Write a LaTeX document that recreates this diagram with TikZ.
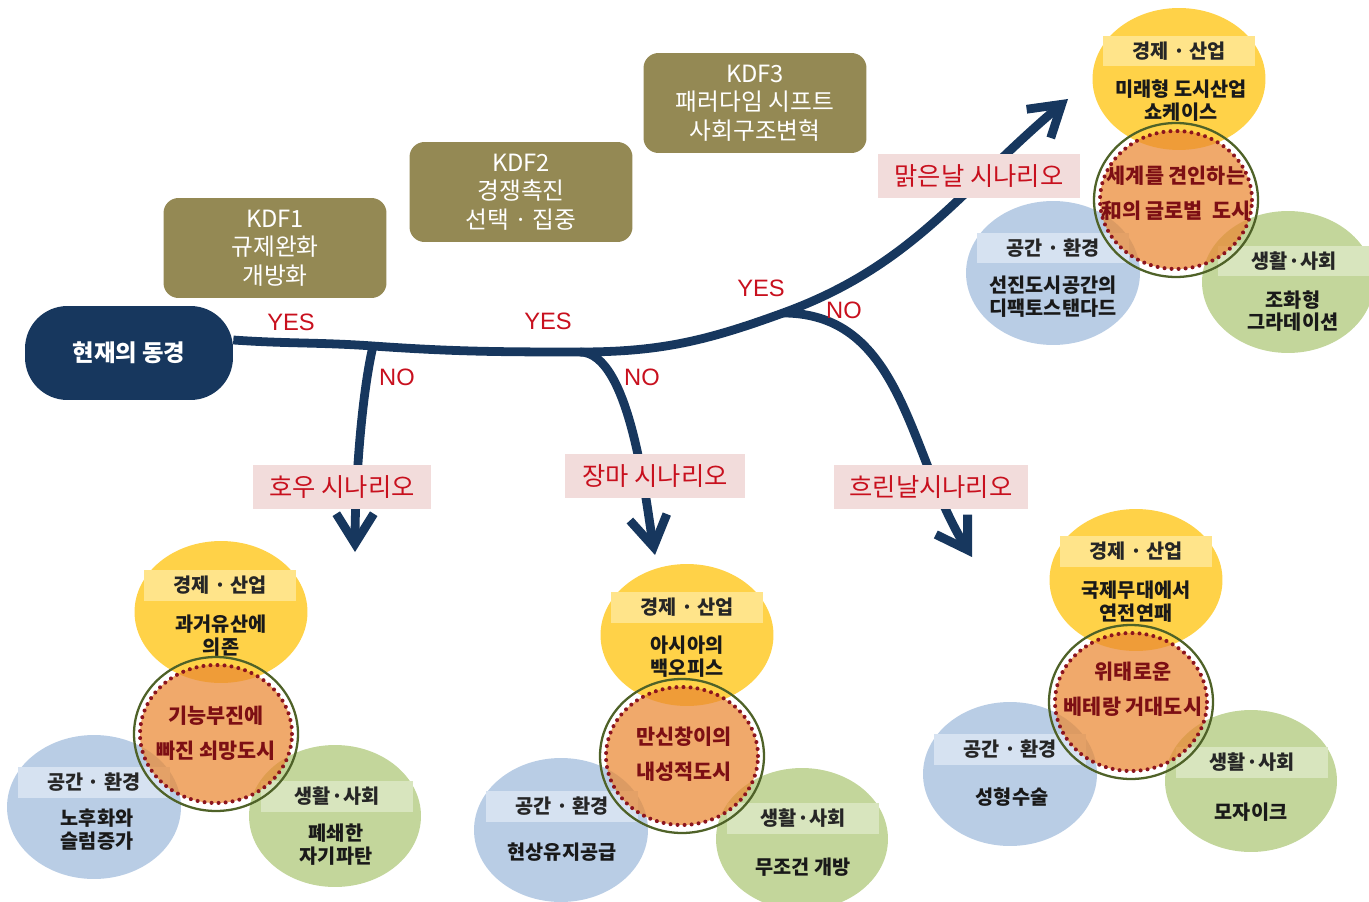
\documentclass[tikz,border=0pt]{standalone}
\usepackage{fontspec}
\setmainfont{Noto Sans CJK KR}
\newfontfamily\yesnofont{Liberation Sans}
\usetikzlibrary{arrows.meta,shapes.geometric}

\definecolor{dreamnavy}{RGB}{23,55,94}
\definecolor{kdfolive}{RGB}{148,137,84}
\definecolor{scenred}{RGB}{200,16,30}
\definecolor{scenpink}{RGB}{242,220,219}
\definecolor{ecoyellow}{RGB}{255,210,72}
\definecolor{ecoband}{RGB}{255,228,138}
\definecolor{envblue}{RGB}{185,205,229}
\definecolor{envband}{RGB}{214,226,241}
\definecolor{socgreen}{RGB}{195,214,155}
\definecolor{socband}{RGB}{216,229,190}
\definecolor{coreorange}{RGB}{234,136,50}
\definecolor{corering}{RGB}{79,98,40}
\definecolor{coredots}{RGB}{140,20,30}
\definecolor{coretext}{RGB}{125,15,20}

\tikzset{
  nowbox/.style={fill=dreamnavy, text=white, rounded corners=0.85cm,
    minimum width=4.16cm, minimum height=1.88cm,
    font=\fontsize{13.3}{15}\selectfont\bfseries},
  kdfbox/.style={fill=kdfolive, text=white, rounded corners=0.3cm,
    minimum width=4.46cm, minimum height=2cm, align=center,
    font=\fontsize{13.5}{16.2}\selectfont},
  scenbox/.style={fill=scenpink, text=scenred, minimum height=0.88cm,
    font=\fontsize{14.4}{16}\selectfont},
  yesno/.style={text=scenred, font=\yesnofont\fontsize{13.5}{16}\selectfont},
  flow/.style={draw=dreamnavy, line width=5pt,
    -{Straight Barb[length=0.6cm,width=0.75cm]}},
  yellowcirc/.style={ellipse, fill=ecoyellow, inner sep=0pt,
    minimum width=3.46cm, minimum height=2.84cm},
  bluecirc/.style={ellipse, fill=envblue, inner sep=0pt,
    minimum width=3.48cm, minimum height=2.88cm},
  greencirc/.style={ellipse, fill=socgreen, inner sep=0pt,
    minimum width=3.44cm, minimum height=2.84cm},
  hdrband/.style={minimum width=3.04cm, minimum height=0.62cm, text=black!85,
    font=\fontsize{11.2}{12}\selectfont\bfseries},
  bodytxt/.style={align=center, text=black!90,
    font=\fontsize{11.2}{13}\selectfont\bfseries},
  corering/.style={ellipse, draw=corering, line width=1.3pt, inner sep=0pt,
    minimum width=3.28cm, minimum height=3.08cm},
  corefill/.style={ellipse, draw=coredots, fill=coreorange, fill opacity=0.72,
    line width=2.3pt, line cap=round, dash pattern=on 0pt off 4pt,
    inner sep=0pt, minimum width=3.04cm, minimum height=2.76cm},
  coretxt/.style={align=center, text=coretext,
    font=\fontsize{11.8}{19.8}\selectfont\bfseries},
}

\begin{document}
\begin{tikzpicture}[x=0.02cm, y=0.02cm]
  \useasboundingbox (0,0) rectangle (1369,-902);
  % Start und KDF-Kaesten:
  \node[nowbox] (now) at (129,-353) {현재의 동경};
  \node[kdfbox] (kdf1) at (275,-248) {KDF1\\규제완화\\개방화};
  \node[kdfbox] (kdf2) at (521,-192) {KDF2\\경쟁촉진\\선택 · 집중};
  \node[kdfbox] (kdf3) at (755,-103) {KDF3\\패러다임 시프트\\사회구조변혁};
  % Verzweigungen und Pfeilspitzen:
  \coordinate (j1) at (373,-346);
  \coordinate (j2) at (580,-352);
  \coordinate (j3) at (783,-313);
  \coordinate (tipS) at (1068,-99);  % 맑은날
  \coordinate (tipH) at (355,-552);  % 호우
  \coordinate (tipJ) at (655,-555);  % 장마
  \coordinate (tipC) at (972,-557);  % 흐린날
  \draw[flow] ([yshift=0.26cm]now.east) to[out=-4,in=176] (j1) to[out=-4,in=180] (j2)
    to[out=0,in=200] (j3) to[out=20,in=220] (tipS); % YES-Strang
  \draw[flow] (j1) to[out=-103,in=90,looseness=0.7] (tipH); % NO 1
  \draw[flow] (j2) to[out=0,in=100,looseness=0.6] (tipJ); % NO 2
  \draw[flow] (j3) to[out=0,in=122] (tipC); % NO 3
  % YES / NO:
  \node[yesno] (yes1) at (291,-322) {YES};
  \node[yesno] (yes2) at (548,-321) {YES};
  \node[yesno] (yes3) at (761,-288) {YES};
  \node[yesno] (no1) at (397,-377) {NO};
  \node[yesno] (no2) at (642,-377) {NO};
  \node[yesno] (no3) at (844,-310) {NO};
  % Szenarien:
  \node[scenbox, minimum width=4.04cm] (scenS) at (979,-176) {맑은날 시나리오};
  \node[scenbox, minimum width=3.58cm] (scenH) at (342,-487) {호우 시나리오};
  \node[scenbox, minimum width=3.6cm] (scenJ) at (655,-476) {장마 시나리오};
  \node[scenbox, minimum width=3.88cm] (scenC) at (931,-487) {흐린날시나리오};

  % 맑은날 Kreise:
  \node[yellowcirc] (ecoS) at (1179,-79) {};
  \node[hdrband, fill=ecoband] (ecoSh) at (1179,-51) {경제 · 산업};
  \node[bodytxt] (ecoSt) at (1181,-101) {미래형 도시산업\\쇼케이스};
  \node[bluecirc] (envS) at (1053,-273) {};
  \node[hdrband, fill=envband] (envSh) at (1053,-248) {공간 · 환경};
  \node[bodytxt] (envSt) at (1053,-297) {선진도시공간의\\디팩토스탠다드};
  \node[greencirc] (socS) at (1288,-282) {};
  \node[hdrband, fill=socband] (socSh) at (1294,-261) {생활·사회};
  \node[bodytxt] (socSt) at (1293,-311) {조화형\\그라데이션};
  \node[corering] (ringS) at (1176,-200) {};
  \node[corefill] (coreS) at (1176,-200) {};
  \node[coretxt] (coreSt) at (1176,-193) {세계를 견인하는\\和의 글로벌 \ 도시};

  % 호우 Kreise:
  \node[yellowcirc] (ecoH) at (221,-612) {};
  \node[hdrband, fill=ecoband] (ecoHh) at (220,-585) {경제 · 산업};
  \node[bodytxt] (ecoHt) at (221,-636) {과거유산에\\의존};
  \node[bluecirc] (envH) at (94,-807) {};
  \node[hdrband, fill=envband] (envHh) at (94,-782) {공간 · 환경};
  \node[bodytxt] (envHt) at (97,-830) {노후화와\\슬럼증가};
  \node[greencirc] (socH) at (335,-816) {};
  \node[hdrband, fill=socband] (socHh) at (337,-796) {생활·사회};
  \node[bodytxt] (socHt) at (336,-845) {폐쇄한\\자기파탄};
  \node[corering] (ringH) at (216,-734) {};
  \node[corefill] (coreH) at (216,-734) {};
  \node[coretxt] (coreHt) at (216,-733) {기능부진에\\빠진 쇠망도시};

  % 장마 Kreise:
  \node[yellowcirc] (ecoJ) at (687,-635) {};
  \node[hdrband, fill=ecoband] (ecoJh) at (687,-607) {경제 · 산업};
  \node[bodytxt] (ecoJt) at (687,-657) {아시아의\\백오피스};
  \node[bluecirc] (envJ) at (561,-830) {};
  \node[hdrband, fill=envband] (envJh) at (562,-806) {공간 · 환경};
  \node[bodytxt] (envJt) at (562,-852) {현상유지공급};
  \node[greencirc] (socJ) at (802,-839) {};
  \node[hdrband, fill=socband] (socJh) at (803,-818) {생활·사회};
  \node[bodytxt] (socJt) at (803,-867) {무조건 개방};
  \node[corering] (ringJ) at (682,-756) {};
  \node[corefill] (coreJ) at (682,-756) {};
  \node[coretxt] (coreJt) at (684,-754) {만신창이의\\내성적도시};

  % 흐린날 Kreise:
  \node[yellowcirc] (ecoC) at (1136,-580) {};
  \node[hdrband, fill=ecoband] (ecoCh) at (1136,-551) {경제 · 산업};
  \node[bodytxt] (ecoCt) at (1136,-602) {국제무대에서\\연전연패};
  \node[bluecirc] (envC) at (1010,-774) {};
  \node[hdrband, fill=envband] (envCh) at (1010,-749) {공간 · 환경};
  \node[bodytxt] (envCt) at (1012,-797) {성형수술};
  \node[greencirc] (socC) at (1251,-781) {};
  \node[hdrband, fill=socband] (socCh) at (1252,-762) {생활·사회};
  \node[bodytxt] (socCt) at (1251,-812) {모자이크};
  \node[corering] (ringC) at (1131,-702) {};
  \node[corefill] (coreC) at (1131,-702) {};
  \node[coretxt] (coreCt) at (1133,-689) {위태로운\\베테랑 거대도시};
\end{tikzpicture}
\end{document}
